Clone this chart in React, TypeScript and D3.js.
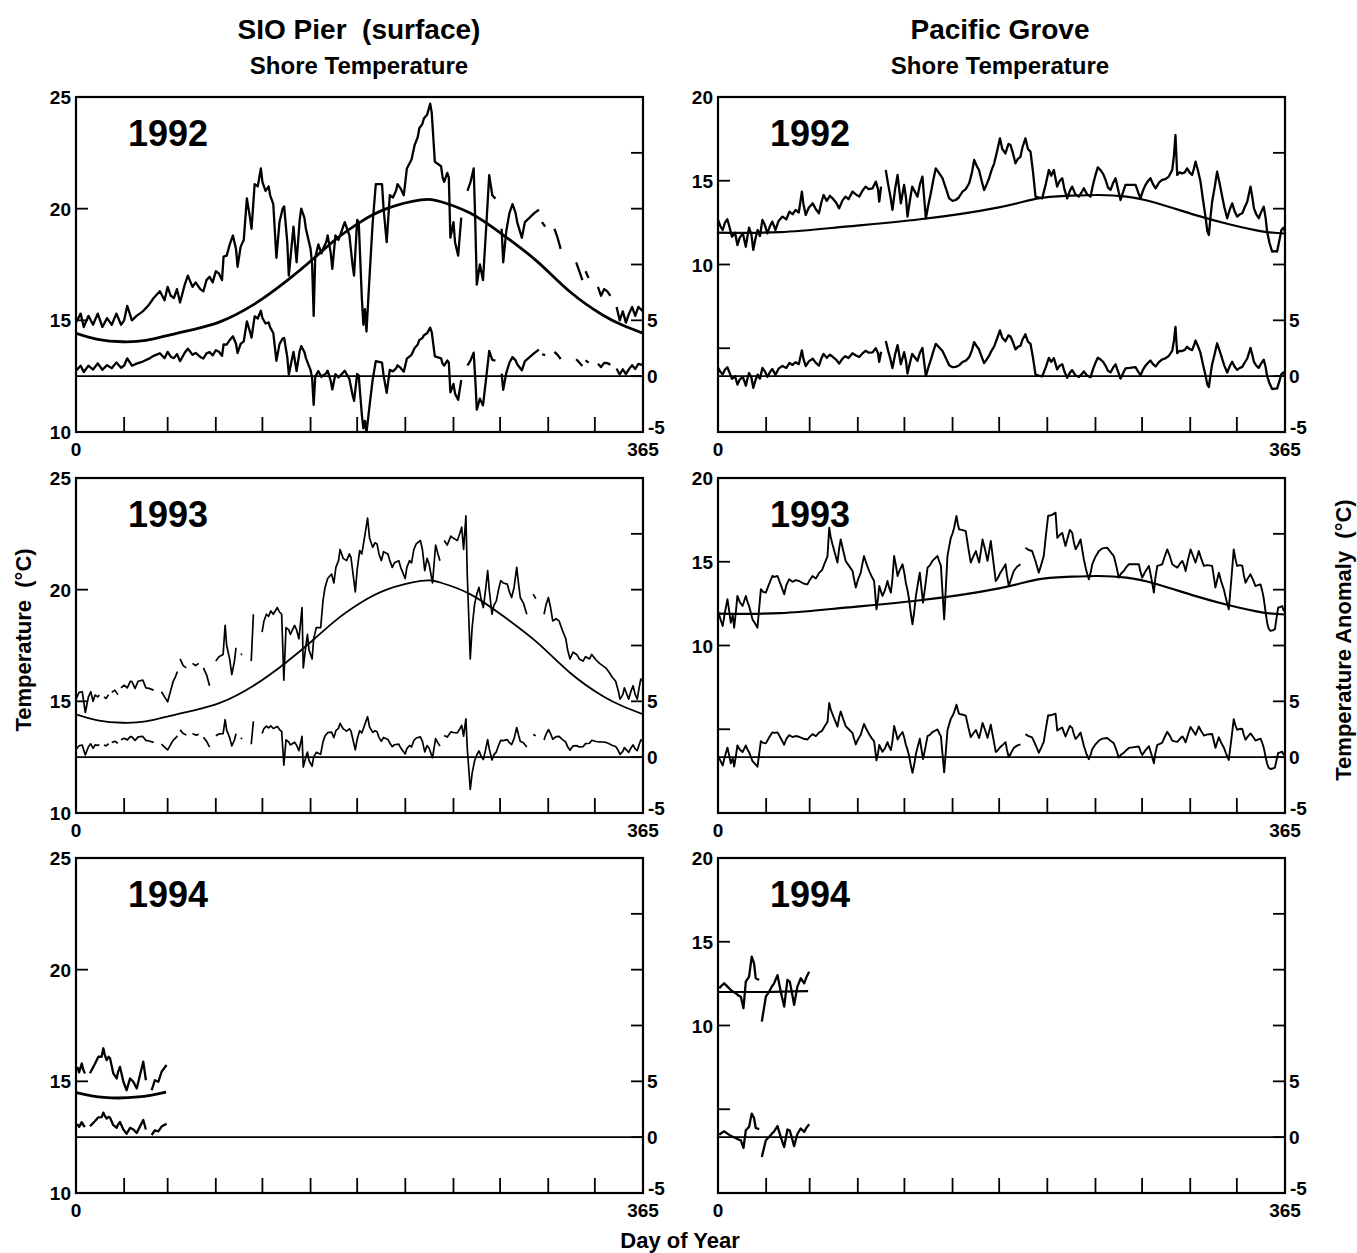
import React from 'react';
import * as d3 from 'd3';

// ---- data ----
type Pt = [number, number | null];

const monthTicks = [31, 59, 90, 120, 151, 181, 212, 243, 273, 304, 334];

// seasonal climatology curves
const sioClim: Pt[] = [[0,14.42],[14,14.15],[30,14.04],[45,14.1],[60,14.34],[76,14.6],[93,14.94],[114,15.69],[135,16.73],[153,17.77],[168,18.67],[183,19.4],[200,20.0],[222,20.39],[235,20.31],[254,19.79],[275,18.82],[297,17.63],[318,16.28],[339,15.24],[352,14.78],[365,14.42]];
const pgClim: Pt[] = [[0,11.9],[40,11.93],[82,12.26],[130,12.7],[180,13.4],[206,13.95],[225,14.1],[245,14.15],[263,14.05],[281,13.7],[307,12.96],[329,12.4],[350,11.98],[365,11.85]];
const sioClim94: Pt[] = [[0,14.5],[18,14.28],[40,14.3],[58,14.52]];
const pgClim94: Pt[] = [[0,12.0],[30,12.0],[58,12.05]];

// daily shore temperature, null = gap in record
const sio92: Pt[] = [[0,14.9],[3,15.3],[5,14.7],[8,15.2],[11,14.8],[14,15.3],[17,14.7],[20,15.1],[23,14.8],[26,15.3],[29,14.8],[31,15.0],[33,15.65],[36,15.0],[39,15.2],[43,15.4],[47,15.7],[50,16.0],[54,16.3],[57,15.9],[59,16.5],[61,16.1],[63,16.0],[65,16.4],[67,15.8],[70,16.6],[72,17.0],[75,16.5],[77,16.7],[80,16.4],[82,16.3],[84,16.8],[86,16.95],[88,16.7],[90,17.2],[92,17.1],[94,16.8],[95,17.85],[97,17.9],[99,18.4],[101,18.8],[103,18.2],[104,17.4],[106,18.3],[108,18.6],[110,20.46],[112,19.6],[113,19.1],[115,21.1],[117,21.0],[119,21.8],[120,21.2],[122,20.8],[124,21.0],[125,20.6],[127,20.2],[128,19.0],[129,17.8],[131,19.4],[133,20.0],[134,20.1],[136,18.5],[137,17.0],[140,19.2],[142,17.6],[144,19.5],[145,20.0],[147,19.6],[148,19.1],[151,18.2],[152,17.5],[153,15.2],[154,17.8],[156,18.4],[158,18.0],[159,18.2],[161,18.5],[162,18.8],[164,18.0],[165,17.3],[167,18.8],[169,18.6],[171,19.0],[173,19.4],[175,19.0],[176,18.8],[178,17.5],[179,17.0],[181,19.5],[182,19.4],[184,16.0],[185,14.8],[186,15.5],[187,14.5],[189,17.0],[191,19.4],[193,21.1],[195,21.1],[197,21.1],[198,20.0],[200,18.5],[202,20.6],[204,20.5],[206,20.8],[207,21.1],[209,20.9],[211,20.6],[213,21.8],[216,22.2],[218,22.85],[220,23.2],[221,23.6],[223,23.8],[224,24.05],[226,24.2],[228,24.7],[229,24.3],[231,22.1],[233,22.0],[235,21.9],[236,21.4],[237,21.2],[239,21.6],[240,21.4],[241,18.7],[243,19.4],[244,18.5],[246,17.9],[248,19.6],[249,null],[252,20.8],[254,21.2],[256,21.8],[257,19.5],[258,16.6],[260,17.5],[262,16.8],[264,19.1],[266,21.5],[268,20.6],[270,20.45],[271,null],[274,19.1],[275,17.6],[277,19.0],[279,19.8],[281,20.2],[283,19.8],[284,19.4],[287,18.7],[289,19.4],[292,19.6],[295,19.8],[298,19.95],[299,null],[300,19.4],[302,19.2],[303,null],[308,19.1],[310,18.7],[312,18.2],[313,null],[322,17.6],[324,17.2],[326,16.8],[327,null],[328,17.2],[330,16.9],[331,null],[336,16.5],[338,16.1],[340,16.4],[342,16.3],[344,16.1],[345,null],[348,15.6],[350,15.0],[352,15.4],[354,14.9],[356,15.3],[358,15.6],[360,15.2],[362,15.6],[365,15.4]];

const sio93: Pt[] = [[0,15.1],[2,15.4],[4,15.43],[6,14.5],[8,15.2],[9.5,15.43],[11,15.0],[12.3,15.28],[14,15.2],[15,15.28],[16,null],[18,15.2],[19.3,15.13],[21,15.3],[22,null],[23,15.4],[25,15.5],[27,15.3],[28,null],[29,15.6],[31,15.73],[33,15.6],[35,15.9],[36,15.88],[38,15.58],[40,15.9],[43,15.95],[45,15.6],[47,15.58],[50,15.5],[51,null],[55,15.43],[57,15.2],[59,14.98],[61,15.5],[62.5,15.88],[64,16.1],[65.3,16.33],[66,null],[67,16.9],[69,16.6],[71,16.5],[72,null],[75,16.7],[77,16.6],[79,16.7],[80,null],[82,16.5],[84,16.2],[86,15.7],[87,null],[90,16.8],[92,17.0],[94.7,17.1],[96,18.4],[97,17.5],[98.9,16.9],[100.3,16.2],[102,16.8],[103,17.4],[104,null],[106,17.1],[107,17.1],[108,null],[112.8,16.8],[114.2,18.9],[115,null],[119.8,18.1],[121,18.6],[122.6,18.9],[124,18.8],[125.4,19.05],[127,18.9],[129.6,19.2],[131,19.0],[132.4,18.9],[133.8,15.95],[135.2,18.3],[137,18.2],[138,18.0],[140.7,18.4],[142,18.2],[143.5,17.8],[145.5,19.2],[146.3,16.5],[148,17.5],[149,18.0],[150,17.3],[152,16.9],[153,17.8],[154.7,18.3],[157.5,18.3],[159,19.5],[160.3,20.1],[162,20.5],[164.5,20.7],[166,20.3],[167.3,21.0],[169,21.3],[170,21.8],[172,21.4],[174.2,21.3],[176,21.6],[177,21.45],[179.8,19.9],[181,20.9],[182.6,21.75],[184,21.6],[185.4,22.2],[187.7,23.2],[189,22.3],[191,21.9],[192.5,22.1],[193.8,22.05],[195,21.6],[196.6,21.3],[198,21.7],[200.8,21.6],[202,21.3],[203.6,21.0],[205,21.2],[207.8,21.3],[209,21.0],[211.9,20.5],[213,21.0],[214.7,21.3],[216,21.2],[217.5,21.8],[219,22.05],[221.7,22.2],[223,21.8],[224.5,20.85],[226,21.4],[227.3,21.15],[229.5,20.3],[231.5,22.0],[233,21.6],[234.3,21.3],[235,null],[237,22.2],[239,22.0],[241.3,22.4],[243,22.3],[245.5,22.2],[247,22.5],[248.3,22.8],[249.5,21.8],[251,23.3],[251.9,20.6],[253.8,16.9],[255,18.3],[256.6,19.35],[258,19.8],[259.4,20.1],[261,19.5],[262.2,19.2],[263.5,19.9],[265,20.85],[266,20.0],[267.8,18.9],[269,19.3],[270.6,19.5],[272,20.0],[273.4,20.4],[275,20.3],[277.6,20.25],[279,19.9],[280.4,19.65],[282,20.1],[283.7,21.0],[285,20.2],[286,19.65],[288,19.4],[290.2,18.9],[291,null],[294.3,19.8],[296,19.6],[297,null],[301.3,18.9],[302.5,19.3],[304.1,19.65],[305.5,19.2],[306.9,18.6],[309,18.7],[311,18.6],[313,18.2],[315.3,17.8],[316.5,17.3],[318,16.9],[320,17.2],[322.3,17.1],[324,16.9],[326.4,16.8],[328,17.0],[330.6,16.9],[332,17.1],[334.8,16.85],[337,16.7],[339,16.6],[341,16.5],[343.2,16.3],[345,16.1],[347.4,15.9],[349,15.5],[350.2,15.1],[352,15.3],[353,15.6],[355.8,15.1],[357,15.4],[358.6,15.7],[360,15.3],[361.3,15.1],[362.5,15.6],[363.6,16.0],[365,15.9]];

const sio94: Pt[] = [[0.9,15.65],[2,15.4],[3.7,15.8],[4.8,15.5],[5.8,15.35],[7,null],[9,15.36],[10.1,15.51],[12.3,15.8],[14.4,16.1],[16.5,16.1],[17.6,16.48],[18.5,16.2],[19.7,15.95],[21,16.1],[21.9,16.03],[24,15.36],[26.2,15.13],[27,15.4],[28.3,15.65],[30.5,14.98],[32.6,14.6],[34.8,15.13],[36.9,14.98],[39.1,14.68],[41.2,15.28],[43.3,15.88],[45,15.05],[46.5,null],[48.7,14.6],[50.8,15.05],[53,14.98],[55.1,15.43],[58.3,15.73]];

const pg92: Pt[] = [[0,12.66],[1.5,12.3],[3,12.06],[4.5,12.5],[6,12.7],[7.5,12.2],[9,11.66],[11,11.9],[12.5,11.16],[14,11.6],[16,11.86],[17.9,11.06],[19,11.7],[20,12.2],[21.5,11.8],[22.7,10.87],[24,11.5],[25.5,12.06],[27,11.7],[28.6,12.66],[30,12.4],[31.8,11.86],[33.5,12.3],[35,12.56],[37,12.06],[39,12.6],[41.5,12.86],[44,12.7],[46,13.16],[48,13.0],[50,13.26],[52,13.1],[54,14.35],[55,13.6],[56.5,12.96],[58.5,13.4],[61,13.65],[63,13.3],[65,13.06],[66.5,13.7],[68,14.15],[70,13.8],[72,14.1],[73.7,13.95],[76,13.7],[78,13.35],[80,13.8],[82,14.05],[84,13.9],[86.6,14.35],[88.5,14.2],[90.9,14.05],[93,14.4],[95,14.65],[97,14.5],[99.5,14.55],[101.6,14.95],[103,14.5],[103.8,13.75],[105,14.65],[106,null],[108,15.64],[109.5,14.8],[111,14.05],[112.3,13.26],[114,14.5],[115.6,15.35],[117.7,13.65],[119.8,14.75],[121,14.0],[122,12.86],[123.5,13.8],[125,14.65],[127,14.3],[128.4,14.05],[130,14.8],[131.6,15.25],[133.8,12.76],[135.5,13.6],[137,14.25],[138.5,15.0],[140.2,15.74],[142,15.5],[144.5,15.15],[146.5,14.6],[148.8,13.95],[151,13.8],[153,13.85],[155,14.0],[157.4,14.35],[159.5,14.5],[161.7,14.85],[163.5,15.5],[164.9,16.24],[166.5,15.9],[168,15.64],[170,14.9],[171.3,14.45],[173,14.8],[174.5,15.15],[176,15.6],[177.8,16.04],[179.5,16.7],[181.5,17.53],[183,16.9],[185,16.63],[187,17.2],[188.3,17.13],[190,16.6],[191.5,16.04],[193,16.3],[194.7,16.43],[196,17.0],[197.9,17.53],[199.5,16.9],[201.2,16.73],[202.8,15.5],[204.4,14.05],[206.5,14.0],[208.7,13.95],[211,14.8],[213,15.64],[214.5,15.3],[216.2,15.64],[218.3,14.65],[220,15.0],[221.6,15.15],[223,14.5],[224.8,13.95],[226.5,14.4],[228,14.65],[230,14.2],[232.3,14.05],[234,14.3],[235.5,14.55],[237.5,14.2],[239.8,14.05],[241.5,14.8],[243,15.34],[244.5,15.8],[246.2,15.64],[248,15.4],[249.5,15.05],[251,14.6],[252.7,14.45],[254.5,14.9],[255.9,15.15],[257.5,14.5],[259.1,13.85],[260.7,14.3],[262.3,14.75],[265,14.75],[268.8,14.75],[270.5,14.3],[272,13.95],[273.5,14.4],[275.2,14.75],[277,15.0],[278.4,15.15],[280,14.8],[281.7,14.55],[284,14.9],[285.9,15.05],[288,15.1],[290.2,15.25],[292.4,15.64],[293.5,16.5],[294.5,17.73],[295.6,15.34],[297,15.5],[298.8,15.44],[300.5,15.5],[302,15.74],[303.5,15.5],[305.2,15.34],[306.3,15.7],[307.4,16.14],[309,15.6],[310.6,14.95],[312,14.0],[313.8,12.86],[315,12.0],[316,11.76],[317,12.8],[318.1,13.75],[319.7,14.6],[321.3,15.54],[323,14.8],[324.6,14.05],[326,13.4],[327.8,12.76],[329.5,13.3],[331,13.65],[332.5,13.2],[334.2,12.86],[336,13.0],[337.5,13.06],[339,13.4],[340.7,13.75],[342.8,14.65],[344,14.0],[345,13.35],[346.5,13.0],[348.1,12.76],[349.5,13.1],[351.3,13.45],[352.5,12.8],[353.5,11.96],[355,11.3],[356.7,10.77],[358.5,10.8],[359.9,10.77],[361.3,11.4],[362.7,12.06],[364,12.2],[365,11.96]];

const pg93: Pt[] = [[0,12.06],[1.5,11.6],[3,11.16],[4.5,12.0],[6.1,12.76],[7,12.2],[8.2,11.36],[9.5,11.8],[10.4,11.06],[11.5,12.0],[12.5,12.96],[14,12.6],[15.8,12.36],[17,12.7],[17.9,12.96],[19,12.6],[20,12.36],[21,12.0],[22.2,11.56],[24,11.3],[25.4,11.06],[26.5,12.2],[27.6,13.36],[29,13.2],[30.8,13.16],[33,13.7],[35,14.15],[36.5,14.1],[38.3,14.15],[40.5,13.6],[42.6,13.06],[44,13.6],[45.8,13.95],[48,13.8],[50,13.9],[52.2,13.85],[55,13.7],[57.6,13.65],[59,13.9],[60.8,14.15],[63,14.0],[65.2,14.35],[67,14.5],[68.4,14.85],[69.5,15.1],[70.5,15.34],[71.6,17.03],[72.5,16.5],[73.7,16.04],[75,15.6],[76.9,14.95],[78,15.8],[79,16.33],[80.5,15.7],[82.2,15.05],[84,14.8],[86.6,14.45],[87.5,14.0],[88.7,13.46],[90,13.9],[91.9,14.35],[93,14.9],[94,15.34],[95.5,14.9],[97.3,14.45],[99,14.1],[100.5,13.85],[102,12.16],[103,12.8],[103.8,13.55],[105,13.2],[105.9,12.96],[107.5,13.3],[109.1,13.85],[110,13.5],[111.3,13.16],[112.3,14.0],[113.4,15.34],[114.5,14.8],[115.6,14.15],[117,14.5],[118.8,14.85],[120,14.3],[120.9,13.75],[122,13.3],[123,12.76],[124,12.0],[125.2,11.26],[126.3,12.0],[127.4,12.96],[128.7,13.7],[129.9,14.35],[131,13.4],[132,12.56],[133.5,13.6],[134.9,14.65],[136.5,14.8],[138,15.05],[139.7,15.2],[141.3,15.34],[142.5,15.0],[143.5,14.75],[144.5,13.2],[145.6,11.56],[146.7,13.5],[147.7,15.34],[148.8,15.9],[149.9,16.43],[151,16.7],[152,17.03],[152.8,17.4],[153.5,17.73],[154.3,17.3],[155.2,16.93],[157,16.9],[159.5,16.83],[161,15.9],[162.7,14.95],[164.3,15.3],[166,15.64],[167,15.3],[168.1,14.95],[169.2,15.6],[170.3,16.33],[172,15.7],[173.5,15.05],[174.5,15.6],[175.6,16.24],[177,15.2],[178.8,13.85],[180,14.0],[181.8,14.35],[183.5,14.6],[185.1,14.85],[186,14.2],[187.2,13.55],[188.8,14.0],[190.4,14.45],[192.5,14.7],[194.7,14.85],[195.5,null],[197.9,15.84],[200,15.7],[202.2,15.64],[204.5,15.0],[206.5,14.35],[208,14.8],[209.7,15.34],[211,16.5],[212.5,17.73],[215,17.8],[217.3,17.93],[218.4,16.43],[220,16.6],[221.6,16.73],[222.7,16.3],[223.7,15.94],[225,16.4],[226.5,16.9],[228,16.73],[229,16.2],[230.2,15.74],[231.8,16.0],[233.4,16.33],[234.5,15.7],[235.5,15.15],[237,14.5],[238.7,13.95],[240,14.4],[240.9,14.85],[243,15.3],[245.2,15.64],[247.5,15.8],[250.5,15.84],[252.5,15.6],[254.8,15.34],[256.5,14.7],[258,14.05],[259.5,14.3],[261.2,14.45],[263,14.7],[264.5,14.85],[267,14.85],[270.9,14.85],[272,14.4],[273.1,14.05],[275,14.4],[277.4,14.75],[279,14.0],[280.6,13.16],[281.5,14.0],[282.8,14.75],[284.5,14.8],[286,14.85],[287.5,15.3],[289.2,15.74],[291,15.3],[292.4,14.85],[294,14.75],[295.7,14.65],[297.5,14.9],[298.9,15.05],[300,14.8],[301,14.45],[302.5,15.1],[304.2,15.74],[306,15.3],[307.4,14.95],[308.5,15.3],[309.5,15.64],[311,15.2],[312.8,14.75],[315,14.8],[318.1,14.75],[319.2,14.1],[320.2,13.46],[321.3,13.9],[322.4,14.35],[324,13.8],[325.6,13.36],[327,12.8],[328.8,12.16],[330.5,14.0],[332,15.74],[333,15.2],[334.2,14.75],[336,14.8],[337.5,14.75],[338.5,14.2],[339.6,13.75],[341,14.0],[342.8,14.25],[344.5,13.9],[346,13.55],[347.5,13.6],[349.3,13.65],[350.5,13.2],[351.4,12.76],[352.5,12.0],[353.5,11.36],[354.5,11.0],[355.7,10.87],[357,10.9],[358.5,10.97],[359.5,11.6],[360.6,12.26],[362,12.3],[363.2,12.36],[364,12.1],[365,12.06]];

const pg94: Pt[] = [[0.8,12.22],[2.5,12.4],[4,12.52],[6.1,12.32],[8.2,12.12],[10,12.0],[11.5,11.92],[13,11.8],[14.7,11.72],[16.4,11.03],[17.9,12.62],[20,12.92],[21.7,14.11],[23.2,13.71],[24.3,12.82],[26.5,12.72],[27.3,null],[28.2,10.23],[30.8,11.72],[32.9,12.02],[34.5,12.3],[36.1,12.52],[38.3,13.01],[40.4,12.02],[42.6,11.13],[44.7,12.72],[46.2,12.62],[47.5,12.0],[49,11.23],[51.1,12.32],[53.3,12.82],[55.5,12.52],[57,12.9],[58.7,13.21]];

const sioTempLabels = [25, 20, 15, 10];
const pgTempLabels = [20, 15, 10];
const anomLabels = [5, 0];

// ---- layout ----
const W = 567, H = 335;
const colX = [76, 718];
const rowY = [97, 478, 858];
const FONT = '"Liberation Sans", Arial, Helvetica, sans-serif';

// climatology value at a given day (linear between read points)
function climAt(clim: Pt[], day: number): number {
  const i = d3.bisector((p: Pt) => p[0]).left(clim, day);
  if (i <= 0) return clim[0][1] as number;
  if (i >= clim.length) return clim[clim.length - 1][1] as number;
  const [x0, y0] = clim[i - 1];
  const [x1, y1] = clim[i];
  return (y0 as number) + ((y1 as number) - (y0 as number)) * (day - x0) / (x1 - x0);
}

type PanelProps = {
  x0: number; y0: number; temp: Pt[]; clim: Pt[];
  tDomain: [number, number]; leftTicks: number[]; leftLabels: number[];
  year: string; lw: number; climW: number; id: string;
};

function Panel({ x0, y0, temp, clim, tDomain, leftTicks, leftLabels, year, lw, climW, id }: PanelProps) {
  const x = d3.scaleLinear().domain([0, 365]).range([x0, x0 + W]);
  const yT = d3.scaleLinear().domain(tDomain).range([y0 + H, y0]);
  const yA = d3.scaleLinear().domain([-5, 25]).range([y0 + H, y0]);

  const tLine = d3.line<Pt>()
    .defined(d => d[1] != null)
    .x(d => x(d[0]))
    .y(d => yT(d[1] as number));
  const cLine = d3.line<Pt>()
    .x(d => x(d[0]))
    .y(d => yT(d[1] as number))
    .curve(d3.curveNatural);
  const anom: Pt[] = temp.map(d => [d[0], d[1] == null ? null : (d[1] as number) - climAt(clim, d[0])]);
  const aLine = d3.line<Pt>()
    .defined(d => d[1] != null)
    .x(d => x(d[0]))
    .y(d => yA(d[1] as number));

  const tickStyle = { stroke: '#000', strokeWidth: 1.8 };
  const labelStyle: React.CSSProperties = { fontFamily: FONT, fontWeight: 700, fontSize: 19 };

  return (
    <g>
      <defs>
        <clipPath id={id}>
          <rect x={x0} y={y0} width={W} height={H} />
        </clipPath>
      </defs>
      <g clipPath={`url(#${id})`} fill="none" stroke="#000" strokeLinejoin="round">
        <path d={cLine(clim) || ''} strokeWidth={climW} />
        <path d={tLine(temp) || ''} strokeWidth={lw} />
        <line x1={x0} x2={x0 + W} y1={yA(0)} y2={yA(0)} strokeWidth={1.6} />
        <path d={aLine(anom) || ''} strokeWidth={lw} />
      </g>
      {/* month ticks */}
      {monthTicks.map(m => (
        <line key={'m' + m} x1={x(m)} x2={x(m)} y1={y0 + H} y2={y0 + H - 15} {...tickStyle} />
      ))}
      {leftTicks.map(t => (
        <line key={'l' + t} x1={x0} x2={x0 + 12} y1={yT(t)} y2={yT(t)} {...tickStyle} />
      ))}
      {[0, 5, 10, 15, 20].map(a => (
        <line key={'r' + a} x1={x0 + W} x2={x0 + W - 12} y1={yA(a)} y2={yA(a)} {...tickStyle} />
      ))}
      <rect x={x0} y={y0} width={W} height={H} fill="none" stroke="#000" strokeWidth={2.2} />
      {leftLabels.map(t => (
        <text key={'ll' + t} x={x0 - 5} y={yT(t) + 7} textAnchor="end" style={labelStyle}>{t}</text>
      ))}
      {anomLabels.map(a => (
        <text key={'al' + a} x={x0 + W + 4} y={yA(a) + 7} textAnchor="start" style={labelStyle}>{a}</text>
      ))}
      <text x={x0 + W + 5} y={y0 + H + 2} textAnchor="start" style={labelStyle}>-5</text>
      <text x={x0} y={y0 + H + 24} textAnchor="middle" style={labelStyle}>0</text>
      <text x={x0 + W} y={y0 + H + 24} textAnchor="middle" style={labelStyle}>365</text>
      <text x={x0 + 52} y={y0 + 49} style={{ fontFamily: FONT, fontWeight: 700, fontSize: 36 }}>{year}</text>
    </g>
  );
}

const years = ['1992', '1993', '1994'];
const sioSeries = [sio92, sio93, sio94];
const pgSeries = [pg92, pg93, pg94];
const sioClims = [sioClim, sioClim, sioClim94];
const pgClims = [pgClim, pgClim, pgClim94];

export default function App() {
  const title: React.CSSProperties = { fontFamily: FONT, fontWeight: 700, whiteSpace: 'pre' };
  return (
    <svg width={1357} height={1253} style={{ position: 'absolute', left: 0, top: 0, background: '#fff' }}>
      <rect width={1357} height={1253} fill="#fff" />
      <text x={359} y={39} textAnchor="middle" style={{ ...title, fontSize: 28 }}>SIO Pier  (surface)</text>
      <text x={359} y={74} textAnchor="middle" style={{ ...title, fontSize: 24 }}>Shore Temperature</text>
      <text x={1000} y={39} textAnchor="middle" style={{ ...title, fontSize: 28 }}>Pacific Grove</text>
      <text x={1000} y={74} textAnchor="middle" style={{ ...title, fontSize: 24 }}>Shore Temperature</text>

      {years.map((yr, i) => (
        <Panel key={'s' + yr} id={'cs' + i} x0={colX[0]} y0={rowY[i]} temp={sioSeries[i]} clim={sioClims[i]}
          tDomain={[10, 25]} leftTicks={[15, 20]} leftLabels={sioTempLabels} year={yr}
          lw={i === 1 ? 1.7 : 2.3} climW={i === 1 ? 1.8 : 2.8} />
      ))}
      {years.map((yr, i) => (
        <Panel key={'p' + yr} id={'cp' + i} x0={colX[1]} y0={rowY[i]} temp={pgSeries[i]} clim={pgClims[i]}
          tDomain={[0, 20]} leftTicks={[5, 10, 15]} leftLabels={pgTempLabels} year={yr}
          lw={i === 1 ? 1.9 : 2.3} climW={2.2} />
      ))}

      <text transform="translate(31,640) rotate(-90)" textAnchor="middle" style={{ ...title, fontSize: 22 }}>Temperature  (°C)</text>
      <text transform="translate(1351,640) rotate(-90)" textAnchor="middle" style={{ ...title, fontSize: 22 }}>Temperature Anomaly  (°C)</text>
      <text x={680} y={1248} textAnchor="middle" style={{ ...title, fontSize: 22 }}>Day of Year</text>
    </svg>
  );
}
